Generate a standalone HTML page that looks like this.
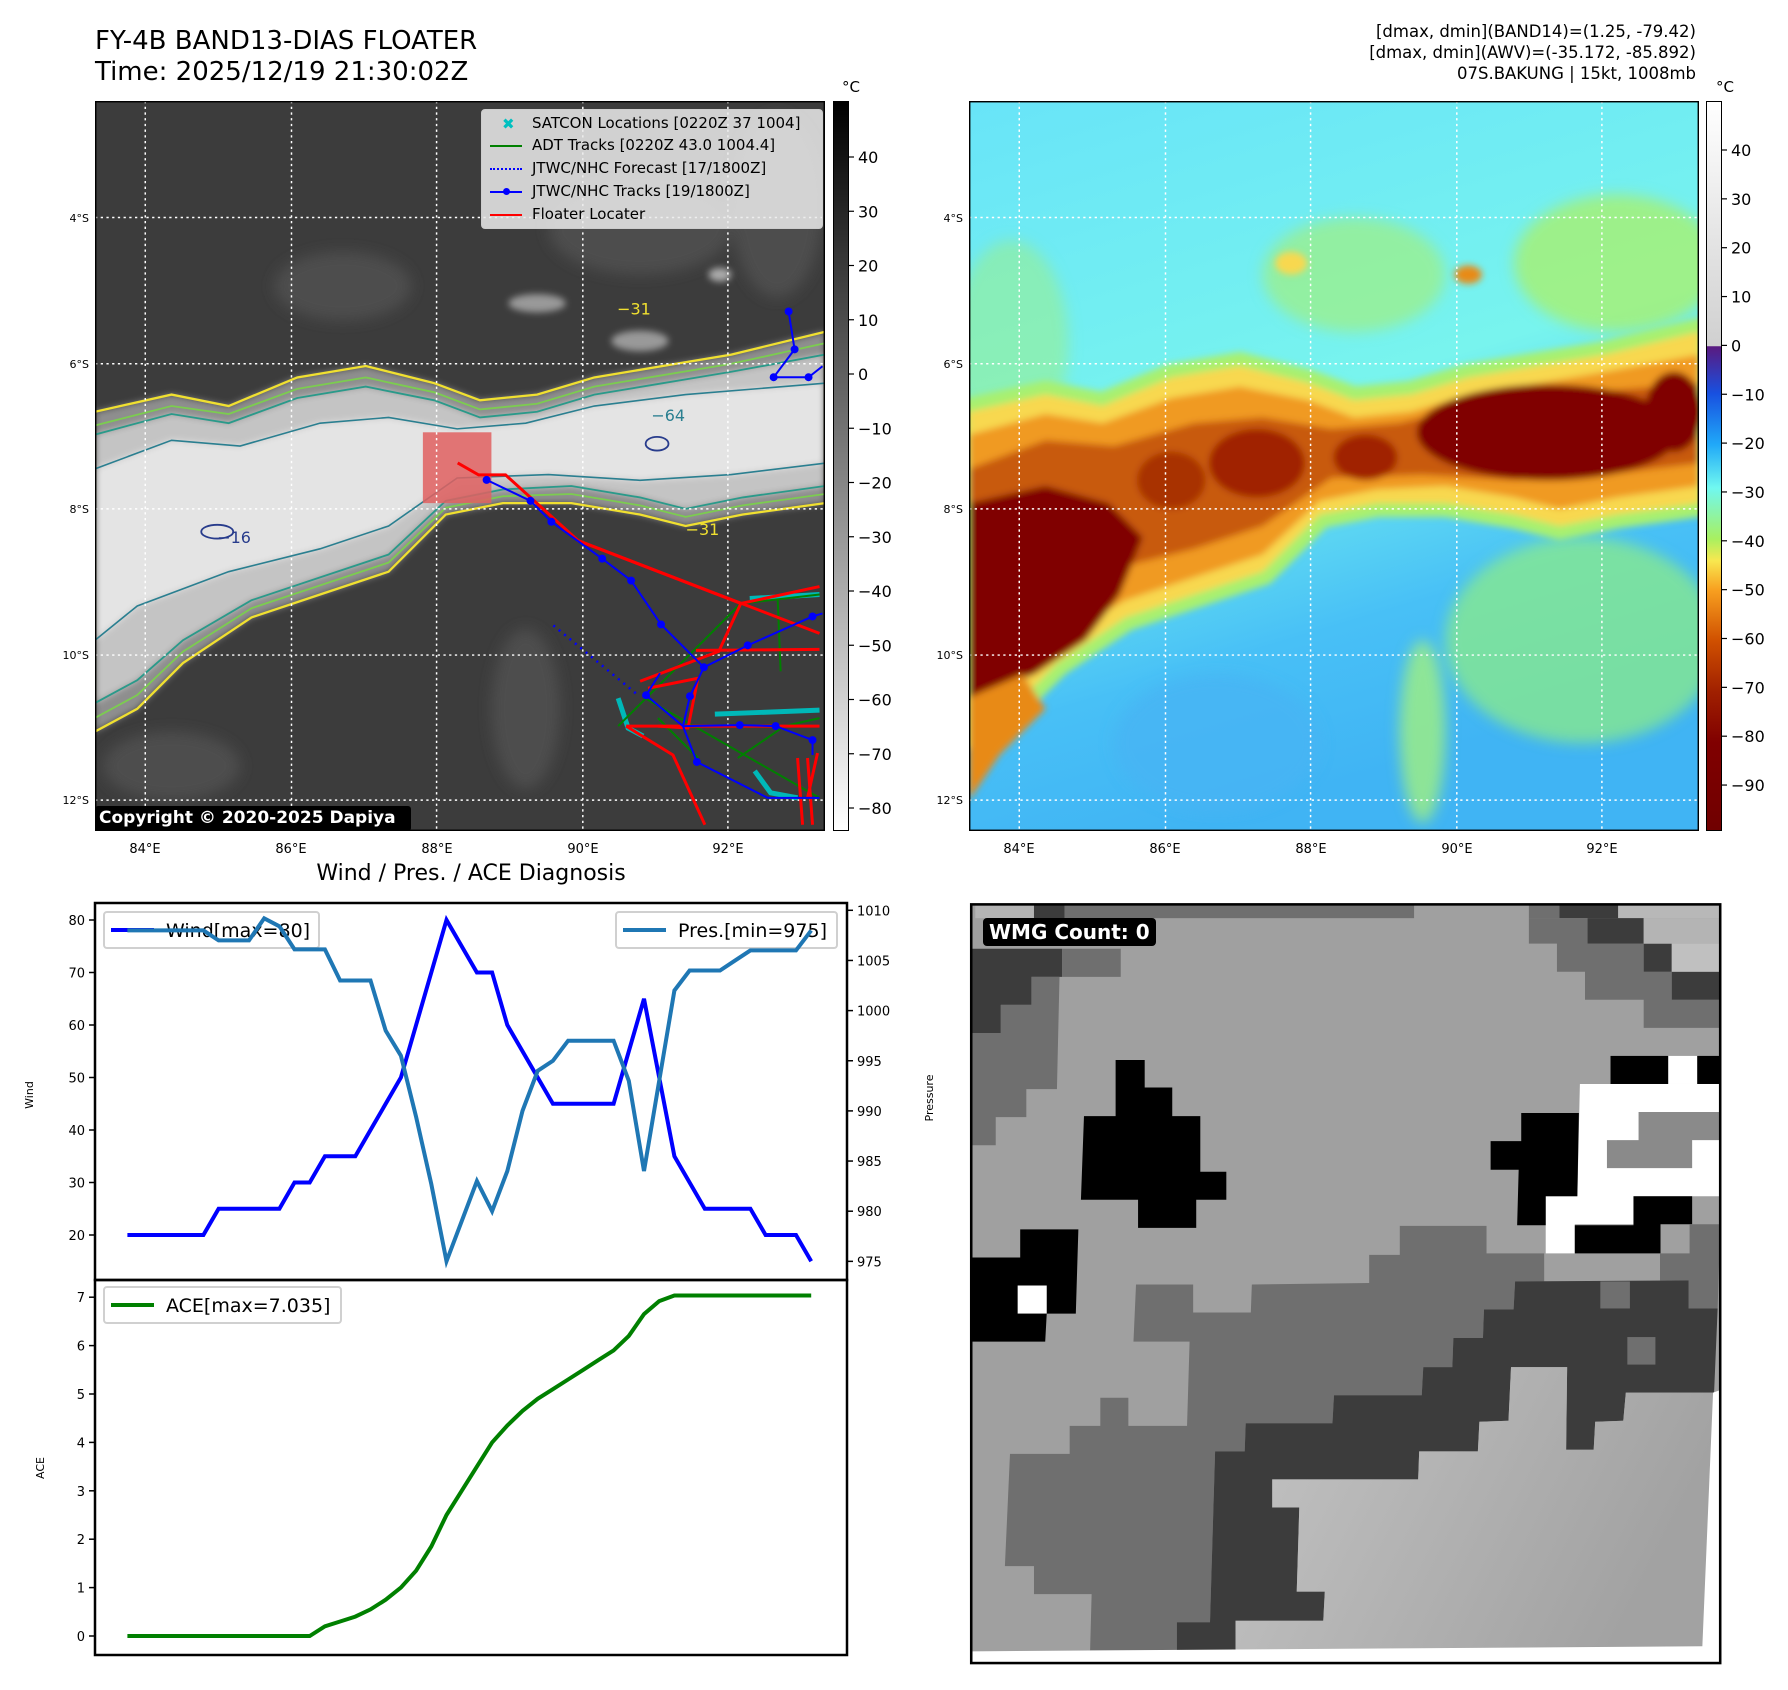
<!DOCTYPE html>
<html><head><meta charset="utf-8">
<style>
body{margin:0;background:#fff;width:1788px;height:1690px;position:relative;overflow:hidden;font-family:"DejaVu Sans","Liberation Sans",sans-serif;}
.abs{position:absolute;}
.t{position:absolute;white-space:nowrap;color:#000;}
</style></head><body>
<div class="t" style="left:95px;top:26px;font-size:26px;line-height:31px;">FY-4B BAND13-DIAS FLOATER<br>Time: 2025/12/19 21:30:02Z</div>
<div class="t" style="right:92px;top:21px;font-size:16.5px;line-height:21px;text-align:right;">[dmax, dmin](BAND14)=(1.25, -79.42)<br>[dmax, dmin](AWV)=(-35.172, -85.892)<br>07S.BAKUNG | 15kt, 1008mb</div>

<svg class="abs" style="left:0;top:0" width="1788" height="1690">
<defs>
<filter id="bl" x="-5%" y="-5%" width="110%" height="110%"><feGaussianBlur stdDeviation="3"/></filter>
<filter id="bl2"><feGaussianBlur stdDeviation="6"/></filter>
<linearGradient id="rbg" x1="0" y1="0" x2="0.3" y2="1"><stop offset="0" stop-color="#68e4f8"/><stop offset="0.5" stop-color="#78f4ee"/><stop offset="0.8" stop-color="#48c0f6"/><stop offset="1" stop-color="#40b4f4"/></linearGradient>
<linearGradient id="lg" x1="0" y1="0" x2="1" y2="0.3"><stop offset="0" stop-color="#c4c4c4"/><stop offset="1" stop-color="#a2a2a2"/></linearGradient>
<clipPath id="cl"><rect x="83" y="88" width="639" height="639"/></clipPath>
<g id="outer"><path d="M83,360 L150,345 200,355 260,330 320,320 380,335 420,350 470,345 520,330 580,320 640,310 722,290 L722,440 650,450 600,460 560,450 500,440 440,440 390,450 340,500 280,520 220,540 160,580 120,620 83,640 Z"/></g>
<g id="mid"><path d="M83,380 L150,362 200,370 260,348 320,338 380,350 420,365 470,360 520,345 580,335 640,325 722,310 L722,425 650,435 600,445 560,435 500,425 440,428 390,438 340,485 280,505 220,525 160,560 120,595 83,615 Z"/></g>
<g id="core"><path d="M83,410 L150,385 210,390 280,370 340,365 400,375 460,370 520,355 600,345 722,335 L722,405 640,415 560,420 480,415 400,418 340,460 280,480 200,500 120,530 83,560 Z"/></g>
</defs>
</svg>

<!-- LEFT MAP -->
<svg class="abs" style="left:95px;top:101px;border:0" width="730" height="730" viewBox="83 88 639 639" preserveAspectRatio="none">
<g clip-path="url(#cl)">
<rect x="83" y="88" width="639" height="639" fill="#3c3c3c"/>
<g filter="url(#bl2)" fill="#4e4e4e">
<ellipse cx="300" cy="250" rx="60" ry="30"/><ellipse cx="560" cy="200" rx="80" ry="40"/><ellipse cx="680" cy="180" rx="40" ry="80"/><ellipse cx="460" cy="620" rx="30" ry="70"/><ellipse cx="150" cy="670" rx="60" ry="30"/></g>
<g filter="url(#bl)">
<use href="#outer" fill="#8e8e8e"/><use href="#mid" fill="#c4c4c4"/><use href="#core" fill="#e4e4e4"/>
<ellipse cx="470" cy="265" rx="25" ry="8" fill="#999"/><ellipse cx="560" cy="298" rx="25" ry="9" fill="#999"/><ellipse cx="630" cy="240" rx="10" ry="6" fill="#aaa"/>
</g>
<use href="#outer" fill="none" stroke="#f0e030" stroke-width="2"/>
<path d="M83,372 L150,355 200,362 260,340 320,330 380,343 420,358 470,353 520,338 580,328 640,318 722,300 L722,432 650,442 600,452 560,442 500,432 440,434 390,444 340,492 280,512 220,532 160,570 120,608 83,628 Z" fill="none" stroke="#7ccc50" stroke-width="1.6"/>
<use href="#mid" fill="none" stroke="#2a9a8a" stroke-width="1.6"/>
<use href="#core" fill="none" stroke="#2a7f90" stroke-width="1.4"/>
<ellipse cx="575" cy="388" rx="10" ry="6" fill="none" stroke="#283c8c" stroke-width="1.6"/>
<ellipse cx="190" cy="465" rx="14" ry="6" fill="none" stroke="#283c8c" stroke-width="1.6"/>
<text x="540" y="275" fill="#f0e030" font-size="14" font-family="DejaVu Sans">−31</text>
<text x="600" y="468" fill="#f0e030" font-size="14" font-family="DejaVu Sans">−31</text>
<text x="570" y="368" fill="#2a7f90" font-size="14" font-family="DejaVu Sans">−64</text>
<text x="190" y="475" fill="#283c8c" font-size="14" font-family="DejaVu Sans">−16</text>
<rect x="370" y="378" width="60" height="62" fill="#e06060" opacity="0.85"/>
<g stroke="#fff" stroke-width="1.3" stroke-dasharray="2,3">
<line x1="127" y1="88" x2="127" y2="727"/><line x1="255" y1="88" x2="255" y2="727"/><line x1="382" y1="88" x2="382" y2="727"/><line x1="510" y1="88" x2="510" y2="727"/><line x1="637" y1="88" x2="637" y2="727"/>
<line x1="83" y1="190" x2="722" y2="190"/><line x1="83" y1="318" x2="722" y2="318"/><line x1="83" y1="445" x2="722" y2="445"/><line x1="83" y1="573" x2="722" y2="573"/><line x1="83" y1="700" x2="722" y2="700"/>
</g>
<g transform="scale(0.8725)">
<g stroke="#00b8b8" stroke-width="5" fill="none"><path d="M752,600 L822,596"/><path d="M620,700 L630,730 L645,738"/><path d="M717,716 L822,712"/><path d="M757,773 L773,795 L800,800"/></g>
<g stroke="#008000" stroke-width="2" fill="none"><path d="M620,728 L743,605 L822,596"/><path d="M780,600 L783,673"/><path d="M740,760 L787,728 L822,720"/><path d="M647,700 L822,800"/><path d="M660,720 L700,760"/></g>
<g stroke="#ff0000" stroke-width="3" fill="none"><path d="M459,464 L480,476 L507,476 L580,542 L743,605 L822,588"/><path d="M580,542 L822,635"/><path d="M698,652 L822,651"/><path d="M743,605 L721,653 L642,683"/><path d="M628,728 L822,728"/><path d="M628,728 L675,757 L707,827"/><path d="M650,690 L700,680 L690,730 L660,728"/><path d="M800,760 L805,827 M810,760 L815,827 M820,755 L810,800"/></g>
<path d="M555,627 L640,697" stroke="#0000ff" stroke-width="2.5" stroke-dasharray="2,5" fill="none"/>
<g stroke="#0000ff" stroke-width="2" fill="none"><path d="M488,481 L532,502 L553,523 L604,560 L633,582 L663,626 L706,669 L750,647 L815,618 L825,615"/><path d="M706,669 L692,698 L685,728 L699,764 L770,800 L822,800"/><path d="M685,728 L742,727 L778,728 L815,742 L815,757"/><path d="M662,675 L648,697 L685,728"/><path d="M791,312 L797,350 L776,378 L811,378 L825,367"/></g>
<g fill="#0000ff"><circle cx="488" cy="481" r="4"/><circle cx="532" cy="502" r="4"/><circle cx="553" cy="523" r="4"/><circle cx="604" cy="560" r="4"/><circle cx="633" cy="582" r="4"/><circle cx="663" cy="626" r="4"/><circle cx="706" cy="669" r="4"/><circle cx="750" cy="647" r="4"/><circle cx="815" cy="618" r="4"/><circle cx="692" cy="698" r="4"/><circle cx="699" cy="764" r="4"/><circle cx="742" cy="727" r="4"/><circle cx="778" cy="728" r="4"/><circle cx="815" cy="742" r="4"/><circle cx="648" cy="697" r="4"/><circle cx="791" cy="312" r="4"/><circle cx="797" cy="350" r="4"/><circle cx="776" cy="378" r="4"/><circle cx="811" cy="378" r="4"/></g>
</g>
</g>
<rect x="83" y="88" width="639" height="639" fill="none" stroke="#000" stroke-width="2.5"/>
</svg>
<div class="abs" style="left:481px;top:109px;width:340px;height:118px;background:rgba(235,235,235,0.85);border:1px solid #ccc;border-radius:4px;font-size:15px;">
<div style="position:absolute;left:20px;top:5px;color:#00c0c0;font-weight:bold">✖</div><div class="t" style="left:50px;top:4px">SATCON Locations [0220Z 37 1004]</div>
<div style="position:absolute;left:8px;top:35px;width:32px;height:2px;background:#008000"></div><div class="t" style="left:50px;top:26px">ADT Tracks [0220Z 43.0 1004.4]</div>
<div style="position:absolute;left:8px;top:58px;width:32px;border-top:2px dotted #0000ff"></div><div class="t" style="left:50px;top:49px">JTWC/NHC Forecast [17/1800Z]</div>
<div style="position:absolute;left:8px;top:81px;width:32px;height:2px;background:#0000ff"></div><div style="position:absolute;left:21px;top:78px;width:7px;height:7px;border-radius:50%;background:#0000ff"></div><div class="t" style="left:50px;top:72px">JTWC/NHC Tracks [19/1800Z]</div>
<div style="position:absolute;left:8px;top:104px;width:32px;height:2px;background:#ff0000"></div><div class="t" style="left:50px;top:95px">Floater Locater</div>
</div>
<div class="t" style="left:95px;top:806px;width:312px;height:25px;background:#000;color:#fff;font-weight:bold;font-size:17px;line-height:25px;padding-left:4px;border-radius:3px;">Copyright © 2020-2025 Dapiya</div>

<!-- RIGHT MAP -->
<svg class="abs" style="left:969px;top:101px" width="730" height="730" viewBox="83 88 639 639" preserveAspectRatio="none">
<g clip-path="url(#cl)">
<rect x="83" y="88" width="639" height="639" fill="url(#rbg)"/>
<g filter="url(#bl2)">
<ellipse cx="420" cy="240" rx="80" ry="50" fill="#a0f080" opacity="0.7"/><ellipse cx="650" cy="230" rx="90" ry="60" fill="#a8f070" opacity="0.8"/><ellipse cx="620" cy="560" rx="120" ry="90" fill="#90f080" opacity="0.7"/><ellipse cx="480" cy="640" rx="20" ry="80" fill="#a0f080" opacity="0.8"/><ellipse cx="300" cy="650" rx="90" ry="60" fill="#48b4f4" opacity="0.8"/><ellipse cx="120" cy="300" rx="50" ry="90" fill="#a0f080" opacity="0.5"/></g>
<g filter="url(#bl)">
<use href="#outer" fill="#b8f058" stroke="#a8f070" stroke-width="24"/>
<use href="#outer" fill="#f8d850"/>
<use href="#mid" fill="#f09a20"/>
<use href="#core" fill="#c85a08"/>
<path d="M83,440 L150,425 205,440 235,470 215,520 185,560 140,590 83,610 Z" fill="#800400"/>
<ellipse cx="590" cy="378" rx="115" ry="42" fill="#800400"/>
<ellipse cx="700" cy="360" rx="25" ry="35" fill="#800400"/>
<ellipse cx="335" cy="405" rx="42" ry="30" fill="#a02400"/>
<ellipse cx="430" cy="400" rx="28" ry="20" fill="#a02400"/>
<ellipse cx="260" cy="420" rx="30" ry="25" fill="#a83000"/>
<path d="M83,610 L130,590 150,620 110,660 83,700 Z" fill="#e88a18"/>
<ellipse cx="520" cy="240" rx="12" ry="8" fill="#e88a18"/>
<ellipse cx="365" cy="230" rx="14" ry="10" fill="#f8d850"/>
</g>
<g stroke="#fff" stroke-width="1.3" stroke-dasharray="2,3">
<line x1="127" y1="88" x2="127" y2="727"/><line x1="255" y1="88" x2="255" y2="727"/><line x1="382" y1="88" x2="382" y2="727"/><line x1="510" y1="88" x2="510" y2="727"/><line x1="637" y1="88" x2="637" y2="727"/>
<line x1="83" y1="190" x2="722" y2="190"/><line x1="83" y1="318" x2="722" y2="318"/><line x1="83" y1="445" x2="722" y2="445"/><line x1="83" y1="573" x2="722" y2="573"/><line x1="83" y1="700" x2="722" y2="700"/>
</g>
</g>
<rect x="83" y="88" width="639" height="639" fill="none" stroke="#000" stroke-width="2.5"/>
</svg>

<!-- colorbars -->
<div class="abs" style="left:833px;top:101px;width:14px;height:728px;background:linear-gradient(#000,#fff);border:1px solid #000"></div>
<div class="abs" style="left:1706px;top:101px;width:14px;height:728px;border:1px solid #000;background:linear-gradient(#fff 0%,#d0d0d0 33.5%,#5a1a80 33.6%,#1850e0 40%,#20a8f8 47%,#70f8f0 53%,#a8f060 60%,#f8e850 63%,#f8a020 67%,#d05000 74%,#a02000 81%,#800000 88%,#700000 100%)"></div>
<div class="t" style="left:842px;top:78px;font-size:15px">°C</div>
<div class="t" style="left:1716px;top:78px;font-size:15px">°C</div>

<!-- WMG panel -->
<svg class="abs" style="left:960px;top:890px" width="800" height="790" viewBox="0 0 1568 1548">
<rect x="22" y="28" width="1468" height="1487" fill="#a0a0a0"/>
<rect x="30" y="30" width="115" height="25" fill="#b4b4b4"/><rect x="145" y="30" width="60" height="25" fill="#3c3c3c"/><rect x="205" y="30" width="685" height="25" fill="#6f6f6f"/><rect x="1115" y="30" width="60" height="25" fill="#6f6f6f"/><rect x="1175" y="30" width="115" height="25" fill="#3c3c3c"/><rect x="1290" y="30" width="200" height="25" fill="#b8b8b8"/>
<polygon fill="#3c3c3c" points="22,115 200,115 200,170 140,170 140,225 80,225 80,280 22,280"/>
<polygon fill="#6f6f6f" points="200,115 315,115 315,170 200,170"/>
<polygon fill="#6f6f6f" points="140,170 195,170 190,390 130,390 130,445 70,445 70,500 22,500 22,280 80,280 80,225 140,225"/>
<polygon fill="#6f6f6f" points="1115,55 1230,55 1230,105 1340,105 1340,160 1395,160 1395,215 1490,215 1490,270 1340,270 1340,215 1225,215 1225,160 1170,160 1170,105 1115,105"/>
<polygon fill="#3c3c3c" points="1230,55 1340,55 1340,105 1395,105 1395,160 1490,160 1490,215 1395,215 1395,160 1340,160 1340,105 1230,105"/>
<rect x="1340" y="55" width="150" height="50" fill="#b4b4b4"/><rect x="1395" y="105" width="95" height="55" fill="#c0c0c0"/>
<polygon fill="#000" points="305,333 362,333 362,387 416,387 416,443 471,443 471,552 522,552 522,607 463,607 463,662 349,662 349,607 237,607 243,443 305,443"/>
<polygon fill="#000" points="118,665 232,665 227,830 170,830 167,885 22,885 22,720 118,720"/>
<rect x="113" y="775" width="57" height="55" fill="#fff"/>
<polygon fill="#fff" points="1215,380 1490,380 1490,600 1320,600 1320,655 1205,655 1205,712 1148,712 1148,600 1210,600"/>
<rect x="1388" y="325" width="57" height="55" fill="#fff"/>
<polygon fill="#8a8a8a" points="1330,435 1490,435 1490,490 1435,490 1435,545 1268,545 1268,490 1330,490"/>
<rect x="1275" y="325" width="113" height="55" fill="#000"/><rect x="1445" y="325" width="45" height="55" fill="#000"/>
<polygon fill="#000" points="1100,437 1213,437 1210,600 1148,600 1148,657 1092,657 1095,548 1040,548 1040,492 1100,492"/>
<polygon fill="#000" points="1320,600 1435,600 1435,655 1373,655 1373,712 1205,712 1205,657 1320,657"/>
<polygon fill="#6f6f6f" points="862,658 1032,658 1032,712 1145,712 1145,767 1088,767 1085,822 1027,822 1025,878 967,878 965,935 908,935 905,990 733,990 730,1045 560,1045 558,1100 500,1100 490,1435 425,1435 425,1490 255,1490 258,1380 145,1380 145,1325 88,1325 98,1105 215,1105 215,1050 275,1050 275,995 330,995 330,1050 445,1050 450,885 340,885 345,773 457,773 457,828 570,828 572,773 802,770 802,715 862,715"/>
<polygon fill="#6f6f6f" points="1430,655 1490,655 1485,820 1428,820 1428,765 1372,765 1372,712 1430,712"/>
<polygon fill="#3c3c3c" points="1088,767 1428,765 1428,820 1485,820 1478,985 1305,985 1300,1040 1245,1042 1242,1097 1188,1097 1190,935 1080,935 1075,1040 1018,1042 1015,1100 900,1100 898,1155 612,1155 612,1210 665,1210 660,1375 715,1375 712,1432 540,1432 540,1490 425,1490 425,1435 490,1435 500,1100 558,1100 560,1045 730,1045 733,990 905,990 908,935 965,935 967,878 1025,878 1027,822 1085,822"/>
<rect x="1255" y="767" width="58" height="53" fill="#6f6f6f"/><rect x="1308" y="876" width="55" height="54" fill="#6f6f6f"/>
<polygon fill="url(#lg)" points="612,1155 898,1155 900,1100 1015,1100 1018,1042 1075,1040 1080,935 1190,935 1188,1097 1242,1097 1245,1042 1300,1040 1305,985 1478,985 1455,1480 540,1490 540,1432 712,1432 715,1375 660,1375 665,1210 612,1210"/>
<polygon fill="#fff" points="1490,980 1490,1515 22,1515 22,1492 1455,1482 1476,985"/>
<rect x="22" y="28" width="1468" height="1487" fill="none" stroke="#000" stroke-width="5"/>
</svg>
<div class="t" style="left:983px;top:918px;background:#000;color:#fff;font-weight:bold;font-size:20px;line-height:28px;padding:0 6px;border-radius:4px;">WMG Count: 0</div>

<!-- charts -->
<div class="t" style="left:471px;top:861px;transform:translateX(-50%);font-size:22px;">Wind / Pres. / ACE Diagnosis</div>
<svg id="chart" class="abs" style="left:0;top:0" width="1788" height="1690"></svg>

<script>
const windVals=[20,20,20,20,20,20,25,25,25,25,25,30,30,35,35,35,40,45,50,60,70,80,75,70,70,60,55,50,45,45,45,45,45,55,65,50,35,30,25,25,25,25,20,20,20,15];
const presVals=[1008,1008,1008,1008,1008,1008,1007,1007,1007,1009.2,1008.4,1006.1,1006.1,1006.1,1003,1003,1003,998,995.5,989.4,982.7,975,979,983,980,984,990,994,995,997,997,997,997,993,984,993,1002,1004,1004,1004,1005,1006,1006,1006,1006,1008];
const aceVals=[0,0,0,0,0,0,0,0,0,0,0,0,0,0.2,0.3,0.4,0.55,0.75,1.0,1.35,1.85,2.5,3.0,3.5,4.0,4.35,4.65,4.9,5.1,5.3,5.5,5.7,5.9,6.2,6.65,6.92,7.035,7.035,7.035,7.035,7.035,7.035,7.035,7.035,7.035,7.035];
const windTicks=[20,30,40,50,60,70,80];
const presTicks=[975,980,985,990,995,1000,1005,1010];
const aceTicks=[0,1,2,3,4,5,6,7];
const irTicks=[40,30,20,10,0,-10,-20,-30,-40,-50,-60,-70,-80];
const awvTicks=[40,30,20,10,0,-10,-20,-30,-40,-50,-60,-70,-80,-90];
const latLabels=['4°S','6°S','8°S','10°S','12°S'];
const lonLabels=['84°E','86°E','88°E','90°E','92°E'];

const NS='http://www.w3.org/2000/svg';
const svg=document.getElementById('chart');
const FF='DejaVu Sans';
function mk(tag,attrs,parent){const e=document.createElementNS(NS,tag);for(const k in attrs)e.setAttribute(k,attrs[k]);(parent||svg).appendChild(e);return e;}
const X=i=>127.4+15.195*i;
const Yw=v=>920+(80-v)*5.25;
const Yp=v=>910.3+(1010-v)*10.03;
const Ya=v=>1636-v*48.4;
const L=95,R=847,T=903,M=1280,B=1655;

let e=mk('rect',{x:L,y:T,width:R-L,height:M-T,fill:'none',stroke:'#000','stroke-width':2.5});


e=mk('rect',{x:L,y:M,width:R-L,height:B-M,fill:'none',stroke:'#000','stroke-width':2.5});



function ticks(vals,yf,side,dname){
  vals.forEach(v=>{const y=yf(v);
    const x0=side==='l'?L:R;const dx=side==='l'?-6:6;
    let t=mk('line',{x1:x0,y1:y,x2:x0+dx,y2:y,stroke:'#000','stroke-width':1.5});
    
    
    let tx=mk('text',{x:side==='l'?x0-10:x0+10,y:y+5,'font-size':13,'text-anchor':side==='l'?'end':'start','font-family':FF});
    tx.textContent=v;
    
    
  });
}
ticks(windTicks,Yw,'l','wind');
ticks(presTicks,Yp,'r','pressure');
ticks(aceTicks,Ya,'l','ace');

function axLabel(txt,x,y,dn){let t=mk('text',{x:x,y:y,'font-size':11,'text-anchor':'middle',transform:`rotate(-90 ${x} ${y})`,'font-family':FF});t.textContent=txt;

}
axLabel('Wind',33,1095,'wind-axis-title');
axLabel('Pressure',933,1098,'pressure-axis-title');
axLabel('ACE',44,1468,'ace-axis-title');

function line(vals,yf,col,dn){const d=vals.map((v,i)=>(i?'L':'M')+X(i).toFixed(1)+','+yf(v).toFixed(1)).join(' ');
let p=mk('path',{d:d,fill:'none',stroke:col,'stroke-width':4,'stroke-linejoin':'miter'});

}

function legend(x,y,w,col,txt,dn){let g=mk('g',{});


mk('rect',{x:x,y:y,width:w,height:36,rx:3,fill:'rgba(255,255,255,0.8)',stroke:'#d0d0d0','stroke-width':2},g);
mk('line',{x1:x+7,y1:y+18,x2:x+50,y2:y+18,stroke:col,'stroke-width':4},g);
let t=mk('text',{x:x+62,y:y+25,'font-size':19,'font-family':FF},g);t.textContent=txt;}
line(windVals,Yw,'#0000ff','wind-line');
legend(104,912,215,'#0000ff','Wind[max=80]','wind-legend');
legend(616,912,221,'#1f77b4','Pres.[min=975]','pressure-legend');
legend(104,1287,237,'#008000','ACE[max=7.035]','ace-legend');
line(presVals,Yp,'#1f77b4','pressure-line');
line(aceVals,Ya,'#008000','ace-line');

const Yir=v=>157+(40-v)*5.425;
const Yawv=v=>150+(40-v)*4.885;
function cbt(vals,yf,x,dn){vals.forEach(v=>{let t=mk('line',{x1:x,y1:yf(v),x2:x+5,y2:yf(v),stroke:'#000','stroke-width':1.2});


let tx=mk('text',{x:x+9,y:yf(v)+6,'font-size':16,'font-family':FF});tx.textContent=(v<0?'−'+(-v):v);

});}
cbt(irTicks,Yir,849,'ir-colorbar');
cbt(awvTicks,Yawv,1722,'awv-colorbar');

const latY=[218,364,509,655,800];
const lonX=[145,291,437,583,728];
function mapTicks(off,dn){latLabels.forEach((s,i)=>{let t=mk('text',{x:89+off,y:latY[i]+4,'font-size':11,'text-anchor':'end','font-family':FF});t.textContent=s;

});
lonLabels.forEach((s,i)=>{let t=mk('text',{x:lonX[i]+off,y:853,'font-size':13,'text-anchor':'middle','font-family':FF});t.textContent=s;

});}
mapTicks(0,'ir-map');
mapTicks(874,'awv-map');
</script>
</body></html>
